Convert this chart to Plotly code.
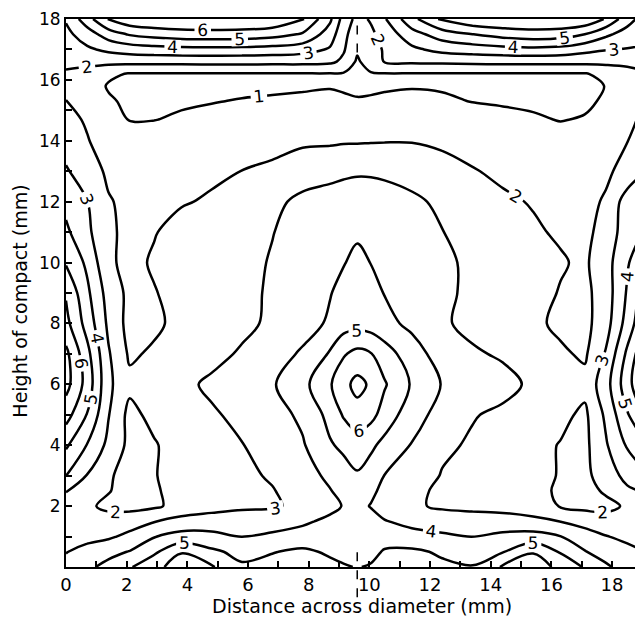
import plotly.graph_objects as go

# grid positions (mm)
x_mm = [0, 0.7, 1.4, 2.1, 2.9, 3.8, 4.8, 5.8, 6.8, 7.8, 8.7, 9.15, 9.6, 10.05,
        10.5, 11.4, 12.4, 13.4, 14.4, 15.4, 16.3, 17.1, 17.8, 18.5, 19.2]
y_mm = [0, 0.5, 1, 1.5, 2, 2.5, 3, 4, 5, 6, 7, 8, 9, 10, 11, 12, 13, 14,
        14.7, 15.3, 15.8, 16.2, 16.6, 17, 17.5, 18]

h00_0 = [3.4, 3.8, 4.3, 4.9, 5.75, 6.4, 6.1, 5.15, 5.35, 5.45, 5.25, 5.1, 4.95, 5.1, 5.3, 5.4, 5.2, 5.05, 6.1, 6.4, 5.8, 4.9, 4.15, 3.6, 3.3]
h00_5 = [2.95, 3.4, 3.7, 4.05, 4.8, 5.95, 5.2, 4.7, 4.95, 5.2, 4.85, 4.65, 4.55, 4.7, 5.1, 5.2, 4.85, 4.6, 4.95, 5.95, 4.9, 4.05, 3.6, 3.3, 2.95]
h01_0 = [2.65, 2.65, 2.85, 3.25, 3.95, 4.35, 4.25, 3.98, 4.2, 4.35, 4.55, 4.6, 4.55, 4.6, 4.55, 4.3, 4.15, 3.98, 4.2, 4.35, 4.02, 3.5, 3.05, 2.75, 2.65]
h01_5 = [2.6, 2.4, 2.35, 2.55, 2.95, 3.35, 3.5, 3.45, 3.5, 3.85, 4.2, 4.4, 4.5, 4.35, 4.05, 3.75, 3.55, 3.45, 3.5, 3.3, 2.98, 2.6, 2.3, 2.4, 2.6]
h02_0 = [2.8, 2.15, 1.8, 1.7, 1.85, 2.3, 2.6, 2.85, 2.9, 3.2, 3.75, 4.05, 4.3, 3.95, 3.6, 3.15, 2.85, 2.75, 2.6, 2.35, 1.95, 1.75, 1.8, 2.1, 2.8]
h02_5 = [3.02, 2.4, 2.05, 1.65, 1.9, 2.3, 2.5, 2.7, 2.95, 3.4, 3.95, 4.3, 4.6, 4.2, 3.75, 3.2, 2.85, 2.6, 2.45, 2.2, 1.9, 1.75, 2.1, 2.8, 3.2]
h03_0 = [4.02, 2.95, 2.1, 1.7, 1.95, 2.35, 2.6, 2.8, 3.1, 3.6, 4.2, 4.6, 4.9, 4.5, 3.98, 3.5, 2.95, 2.7, 2.5, 2.25, 1.95, 1.8, 2.4, 3.35, 3.9]
h04_0 = [5.15, 3.95, 2.75, 1.75, 1.9, 2.5, 2.75, 2.97, 3.4, 3.9, 4.9, 5.2, 5.5, 5.2, 4.7, 3.95, 3.15, 2.9, 2.6, 2.3, 1.95, 1.75, 2.9, 4.1, 5.1]
h05_0 = [6.4, 4.95, 3.05, 1.7, 2.3, 2.65, 2.9, 3.2, 3.6, 4.2, 5.3, 6.1, 6.6, 6.3, 5.6, 4.4, 3.65, 3.05, 2.85, 2.6, 2.25, 1.8, 3.2, 4.9, 6.3]
h06_0 = [7.35, 5.6, 3.2, 2.25, 2.45, 2.8, 3.15, 3.5, 3.9, 4.7, 5.9, 6.7, 7.3, 6.85, 6.1, 4.9, 3.95, 3.65, 3.25, 2.85, 2.45, 2.3, 3.6, 5.6, 7.4]
h07_0 = [7.25, 5.3, 3.1, 1.85, 2.15, 2.45, 2.75, 3.1, 3.5, 4.15, 5.1, 5.9, 6.3, 6.05, 5.5, 4.4, 3.6, 3.1, 2.9, 2.5, 2.15, 1.85, 3.1, 5.2, 7.2]
h08_0 = [6.3, 4.6, 2.8, 1.65, 1.8, 2.3, 2.55, 2.8, 3.15, 3.55, 4.15, 4.55, 4.6, 4.55, 4.25, 3.8, 3.1, 2.8, 2.5, 2.2, 1.8, 1.7, 2.6, 4.4, 6.2]
h09_0 = [5.9, 4.2, 2.6, 1.75, 1.95, 2.3, 2.55, 2.8, 3.1, 3.45, 3.95, 4.3, 4.5, 4.3, 3.97, 3.55, 3.2, 2.8, 2.55, 2.3, 1.95, 1.75, 2.5, 4.1, 5.8]
h10_0 = [4.9, 3.8, 2.15, 1.75, 2.1, 2.4, 2.6, 2.8, 3.05, 3.35, 3.65, 3.95, 4.25, 3.98, 3.7, 3.4, 3.15, 2.85, 2.6, 2.35, 2.08, 1.85, 2.6, 3.9, 4.95]
h11_0 = [4.2, 3.2, 2.2, 1.7, 1.95, 2.3, 2.5, 2.7, 2.98, 3.25, 3.5, 3.7, 3.85, 3.7, 3.55, 3.3, 3.02, 2.7, 2.45, 2.1, 1.9, 1.8, 2.3, 3.6, 4.2]
h12_0 = [3.7, 3.02, 2.08, 1.75, 1.8, 1.93, 2.1, 2.3, 2.75, 3.25, 3.35, 3.4, 3.45, 3.4, 3.35, 3.15, 2.85, 2.5, 2.12, 1.95, 1.78, 1.75, 2.1, 3.5, 3.95]
h13_0 = [3.1, 2.5, 1.82, 1.65, 1.7, 1.75, 1.85, 2.01, 2.15, 2.5, 2.75, 2.85, 2.9, 2.9, 2.85, 2.7, 2.3, 2.05, 1.85, 1.75, 1.6, 1.72, 1.85, 2.3, 3.05]
h14_0 = [2.6, 2.05, 1.6, 1.35, 1.4, 1.45, 1.55, 1.65, 1.75, 1.85, 1.85, 1.9, 1.9, 1.93, 1.95, 1.95, 1.85, 1.7, 1.55, 1.45, 1.3, 1.45, 1.6, 1.98, 2.5]
h14_7 = [2.25, 1.9, 1.3, 0.97, 0.98, 1.1, 1.25, 1.35, 1.42, 1.5, 1.55, 1.52, 1.48, 1.5, 1.52, 1.55, 1.45, 1.3, 1.2, 1.08, 0.97, 1.05, 1.35, 1.8, 2.25]
h15_3 = [2.02, 1.55, 1.1, 0.85, 0.85, 0.9, 0.96, 1.05, 1.1, 1.15, 1.2, 1.15, 1.1, 1.1, 1.15, 1.2, 1.1, 0.98, 0.92, 0.88, 0.85, 0.87, 1.1, 1.55, 2.2]
h15_8 = [1.75, 1.45, 0.93, 0.8, 0.78, 0.76, 0.77, 0.8, 0.85, 0.9, 0.95, 0.88, 0.75, 0.85, 0.9, 0.95, 0.93, 0.88, 0.83, 0.78, 0.76, 0.8, 1.02, 1.4, 1.8]
h16_2 = [1.92, 1.6, 1.15, 0.95, 0.95, 0.95, 0.95, 0.95, 0.95, 0.95, 0.95, 0.92, 0.55, 0.92, 0.95, 0.95, 0.95, 0.95, 0.95, 0.95, 0.95, 0.95, 1.2, 1.6, 1.95]
h16_6 = [2.15, 2.3, 2.3, 2.3, 2.3, 2.3, 2.32, 2.32, 2.3, 2.3, 2.2, 1.8, 0.85, 1.5, 2.05, 2.15, 2.2, 2.25, 2.3, 2.3, 2.3, 2.3, 2.3, 2.3, 2.25]
h17_0 = [2.45, 2.85, 3.2, 3.45, 3.6, 3.7, 3.72, 3.7, 3.6, 3.4, 2.9, 2.1, 1.15, 1.6, 2.1, 2.8, 3.3, 3.5, 3.65, 3.75, 3.65, 3.3, 3.05, 2.95, 2.9]
h17_5 = [2.75, 3.5, 4.5, 5.1, 5.4, 5.6, 5.65, 5.6, 5.4, 4.9, 3.5, 2.3, 1.35, 1.8, 2.4, 3.6, 4.5, 5.0, 5.4, 5.6, 5.5, 5.0, 4.2, 3.6, 3.2]
h18_0 = [3.1, 4.6, 6.05, 6.7, 6.85, 6.9, 6.9, 6.9, 6.8, 6.1, 4.2, 2.6, 1.7, 2.1, 2.9, 4.7, 6.2, 6.8, 6.9, 6.9, 6.9, 6.8, 5.9, 4.4, 3.4]

density = [h00_0, h00_5, h01_0, h01_5, h02_0, h02_5, h03_0, h04_0, h05_0, h06_0,
           h07_0, h08_0, h09_0, h10_0, h11_0, h12_0, h13_0, h14_0, h14_7, h15_3,
           h15_8, h16_2, h16_6, h17_0, h17_5, h18_0]

labelled_levels = (1, 6)
inner_level = 7
centre_line_x = 9.6

x_tick_vals = list(range(0, 19))
x_tick_text = [str(v) if v % 2 == 0 else "" for v in x_tick_vals]
y_tick_vals = list(range(0, 19))
y_tick_text = [str(v) if (v % 2 == 0 and v > 0) else "" for v in y_tick_vals]

x_title = "Distance across diameter (mm)"
y_title = "Height of compact (mm)"

FONT = "DejaVu Sans"
black = [[0, "black"], [1, "black"]]

fig = go.Figure()
fig.add_trace(go.Contour(
    x=x_mm, y=y_mm, z=density,
    autocontour=False,
    contours=dict(start=labelled_levels[0], end=labelled_levels[1], size=1,
                  coloring="lines", showlabels=True,
                  labelfont=dict(size=17, color="black", family=FONT)),
    colorscale=black, showscale=False,
    line=dict(width=2.5, smoothing=1.0),
    hoverinfo="skip",
))
fig.add_trace(go.Contour(
    x=x_mm, y=y_mm, z=density,
    autocontour=False,
    contours=dict(start=inner_level, end=inner_level, size=1,
                  coloring="lines", showlabels=False),
    colorscale=black, showscale=False,
    line=dict(width=2.5, smoothing=1.0),
    hoverinfo="skip",
))

# dashed centre line (top and bottom)
fig.add_shape(type="line", xref="x", yref="y", x0=centre_line_x, x1=centre_line_x,
              y0=16.9, y1=18, line=dict(color="black", width=1.5, dash="dash"))
fig.add_shape(type="line", xref="x", yref="paper", x0=centre_line_x, x1=centre_line_x,
              y0=-0.055, y1=0.7 / 18, line=dict(color="black", width=1.5, dash="dash"))

fig.add_annotation(text=x_title, xref="paper", yref="paper", x=0.513, y=-0.071,
                   xanchor="center", yanchor="middle", showarrow=False,
                   font=dict(size=19, family=FONT, color="black"))
fig.add_annotation(text=y_title, xref="paper", yref="paper", x=-0.079, y=0.485,
                   xanchor="center", yanchor="middle", showarrow=False, textangle=-90,
                   font=dict(size=19, family=FONT, color="black"))

# the page adds an 8 px body margin, so the figure is made 8 px smaller
fig.update_layout(
    width=635, height=612,
    margin=dict(l=58, r=0, t=11, b=53),
    paper_bgcolor="white", plot_bgcolor="white",
    font=dict(family=FONT, color="black", size=17),
    showlegend=False,
    xaxis=dict(range=[0, 19.02], tickmode="array", tickvals=x_tick_vals,
               ticktext=x_tick_text, ticks="inside", ticklen=6, tickwidth=1.5,
               tickcolor="black", showline=True, linecolor="black", linewidth=2,
               mirror=True, showgrid=False, zeroline=False, automargin=False,
               ticklabeloverflow="allow", tickfont=dict(size=18)),
    yaxis=dict(range=[0, 18], tickmode="array", tickvals=y_tick_vals,
               ticktext=y_tick_text, ticks="inside", ticklen=6, tickwidth=1.5,
               tickcolor="black", showline=True, linecolor="black", linewidth=2,
               mirror=False, showgrid=False, zeroline=False, automargin=False,
               ticklabeloverflow="allow", tickfont=dict(size=17)),
)

fig.write_html("out.html")
